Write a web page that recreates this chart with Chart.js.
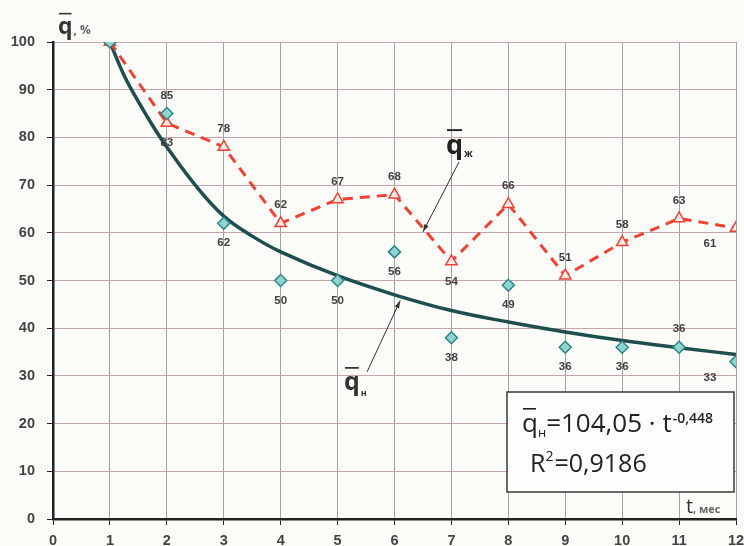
<!DOCTYPE html>
<html>
<head>
<meta charset="utf-8">
<script src="https://cdn.jsdelivr.net/npm/chart.js@4"></script>
<style>
  html, body { margin: 0; padding: 0; background: #fbfbf8; }
  #wrap { width: 744px; height: 546px; }
</style>
</head>
<body>
<div id="wrap"><canvas id="chart" width="744" height="546"></canvas></div>
<script>
// ---- data ----
const months = [1, 2, 3, 4, 5, 6, 7, 8, 9, 10, 11, 12];
const qZh = [100, 83, 78, 62, 67, 68, 54, 66, 51, 58, 63, 61];   // triangles, dashed
const qN  = [100, 85, 62, 50, 50, 56, 38, 49, 36, 36, 36, 33];   // diamonds
const trendT = [1, 1.25, 1.5, 1.75, 2, 2.5, 3, 3.5, 4, 5, 6, 7, 8, 9, 10, 11, 12];
const trendQ = [100, 93, 87.5, 82.5, 78, 70, 63.5, 59.3, 56, 51, 47, 43.7, 41.3, 39.2, 37.4, 35.9, 34.5];
const yTicks = [0, 10, 20, 30, 40, 50, 60, 70, 80, 90, 100];
const xTicks = [0, 1, 2, 3, 4, 5, 6, 7, 8, 9, 10, 11, 12];

// where each value label sits relative to its marker
const zhLabelPos = ['none', 'below', 'above', 'above', 'above', 'above', 'below', 'above', 'above', 'above', 'above', 'belowLeft'];
const nLabelPos  = ['none', 'above', 'below', 'below', 'below', 'below', 'below', 'below', 'below', 'below', 'above', 'belowLeft'];

const pts = (xs, ys) => xs.map((x, i) => ({ x: x, y: ys[i] }));

const FONT = '"Open Sans", Arial, sans-serif';
const labelFont = 'bold 11.5px "Liberation Sans", Arial, sans-serif';

// draws "q" with a bar over it
function drawQBar(ctx, x, y, size) {
  ctx.font = 'bold ' + size + 'px ' + FONT;
  ctx.textAlign = 'left';
  ctx.textBaseline = 'alphabetic';
  const w = ctx.measureText('q').width;
  ctx.fillText('q', x, y);
  ctx.fillRect(x + 1, y - size * 0.92, w - 2, Math.max(1.5, size * 0.07));
  return w;
}

function arrow(ctx, x1, y1, x2, y2) {
  ctx.strokeStyle = '#333';
  ctx.fillStyle = '#333';
  ctx.lineWidth = 1;
  ctx.beginPath();
  ctx.moveTo(x1, y1);
  ctx.lineTo(x2, y2);
  ctx.stroke();
  const a = Math.atan2(y2 - y1, x2 - x1);
  ctx.beginPath();
  ctx.moveTo(x2, y2);
  ctx.lineTo(x2 - 8 * Math.cos(a - 0.3), y2 - 8 * Math.sin(a - 0.3));
  ctx.lineTo(x2 - 8 * Math.cos(a + 0.3), y2 - 8 * Math.sin(a + 0.3));
  ctx.closePath();
  ctx.fill();
}

const extras = {
  id: 'extras',
  beforeDraw(chart) {
    const ctx = chart.ctx;
    ctx.save();
    ctx.fillStyle = '#fbfbf8';
    ctx.fillRect(0, 0, chart.width, chart.height);
    ctx.restore();
  },
  afterDatasetsDraw(chart) {
    const ctx = chart.ctx;
    const xs = chart.scales.x, ys = chart.scales.y;
    ctx.save();

    // value labels
    ctx.font = labelFont;
    ctx.fillStyle = '#404040';
    ctx.textAlign = 'center';
    ctx.textBaseline = 'middle';
    const putLabels = (vals, pos) => {
      vals.forEach((v, i) => {
        const px = xs.getPixelForValue(months[i]);
        const py = ys.getPixelForValue(v);
        if (pos[i] === 'above') ctx.fillText(String(v), px, py - 18);
        else if (pos[i] === 'below') ctx.fillText(String(v), px, py + 20);
        else if (pos[i] === 'belowLeft') ctx.fillText(String(v), px - 26, py + 16);
      });
    };
    putLabels(qZh, zhLabelPos);
    putLabels(qN, nLabelPos);

    // axis titles
    ctx.fillStyle = '#333';
    const w = drawQBar(ctx, 58, 34, 23);
    ctx.font = 'bold 12px ' + FONT;
    ctx.fillStyle = '#666';
    ctx.fillText(', %', 59 + w, 34);

    ctx.fillStyle = '#333';
    ctx.font = '20px ' + FONT;
    ctx.fillText('t', 686, 513);
    ctx.font = 'bold 11px ' + FONT;
    ctx.fillStyle = '#666';
    ctx.fillText(', мес', 693, 513);

    // series call-outs
    ctx.fillStyle = '#222';
    let qw = drawQBar(ctx, 446, 154, 27);
    ctx.font = 'bold 10px ' + FONT;
    ctx.fillText('ж', 447 + qw, 157);
    arrow(ctx, 459, 162, xs.getPixelForValue(6.5), ys.getPixelForValue(60.2));

    qw = drawQBar(ctx, 344, 390, 25);
    ctx.font = 'bold 9px ' + FONT;
    ctx.fillText('н', 345 + qw, 396);
    arrow(ctx, 367, 372, xs.getPixelForValue(6.1), ys.getPixelForValue(45.8));

    // equation box
    ctx.fillStyle = '#fdfdfb';
    ctx.fillRect(507, 392, 227, 100);
    ctx.strokeStyle = '#3a3a3a';
    ctx.lineWidth = 1.5;
    ctx.strokeRect(507, 392, 227, 100);

    ctx.fillStyle = '#222';
    ctx.textBaseline = 'alphabetic';
    ctx.font = '26px ' + FONT;
    const eqQ = ctx.measureText('q').width;
    ctx.fillText('q', 522, 432);
    ctx.fillRect(523, 408, eqQ - 3, 1.6);
    ctx.font = '13px ' + FONT;
    ctx.fillText('н', 522 + eqQ, 437);
    let x0 = 522 + eqQ + ctx.measureText('н').width;
    ctx.font = '26px ' + FONT;
    const main = '=104,05 \u00b7 t';
    ctx.fillText(main, x0, 432);
    x0 += ctx.measureText(main).width + 1;
    ctx.font = '600 14px ' + FONT;
    ctx.fillText('-0,448', x0, 423);

    ctx.font = '25px ' + FONT;
    ctx.fillText('R', 530, 472);
    const rw = ctx.measureText('R').width;
    ctx.font = '14px ' + FONT;
    ctx.fillText('2', 530 + rw, 461);
    const sw = ctx.measureText('2').width;
    ctx.font = '25px ' + FONT;
    ctx.fillText('=0,9186', 531 + rw + sw, 472);

    ctx.restore();
  }
};

const tickFont = { family: '"Liberation Sans", Arial, sans-serif', size: 14.5, weight: 'bold' };

new Chart(document.getElementById('chart'), {
  type: 'scatter',
  data: {
    datasets: [
      {
        label: 'qн trend',
        data: pts(trendT, trendQ),
        showLine: true,
        borderColor: '#1f4e4e',
        borderWidth: 3.5,
        pointRadius: 0,
        tension: 0.4,
        order: 3
      },
      {
        label: 'qж',
        data: pts(months, qZh),
        showLine: true,
        borderColor: '#ee4235',
        borderWidth: 3,
        borderDash: [10, 7],
        pointStyle: 'triangle',
        pointRadius: 6.5,
        backgroundColor: '#fbe9e6',
        pointBorderColor: '#ee4235',
        pointBorderWidth: 1.5,
        order: 2
      },
      {
        label: 'qн',
        data: pts(months, qN),
        showLine: false,
        pointStyle: 'rectRot',
        pointRadius: 6,
        backgroundColor: '#8fd4cf',
        borderColor: '#2d8585',
        borderWidth: 1.5,
        order: 1
      }
    ]
  },
  options: {
    responsive: false,
    animation: false,
    layout: { padding: { top: 42, right: 7, left: 0, bottom: 0 } },
    plugins: { legend: { display: false }, tooltip: { enabled: false } },
    scales: {
      x: {
        type: 'linear',
        min: 0, max: 12,
        afterBuildTicks: s => { s.ticks = xTicks.map(v => ({ value: v })); },
        afterFit: s => { s.height = 27; s.paddingLeft = 0; s.paddingRight = 0; },
        grid: { color: '#a3a3a3', lineWidth: 1, tickLength: 6, tickColor: '#222' },
        border: { color: '#222', width: 2.5 },
        ticks: { padding: 7, color: '#444', font: tickFont }
      },
      y: {
        type: 'linear',
        min: 0, max: 100,
        afterBuildTicks: s => { s.ticks = yTicks.map(v => ({ value: v })); },
        afterFit: s => { s.width = 53; s.paddingTop = 0; s.paddingBottom = 0; },
        grid: { color: '#c8a4ab', lineWidth: 1, tickLength: 6, tickColor: '#222' },
        border: { color: '#222', width: 2.5 },
        ticks: { padding: 12, color: '#444', font: tickFont }
      }
    }
  },
  plugins: [extras]
});
</script>
</body>
</html>
